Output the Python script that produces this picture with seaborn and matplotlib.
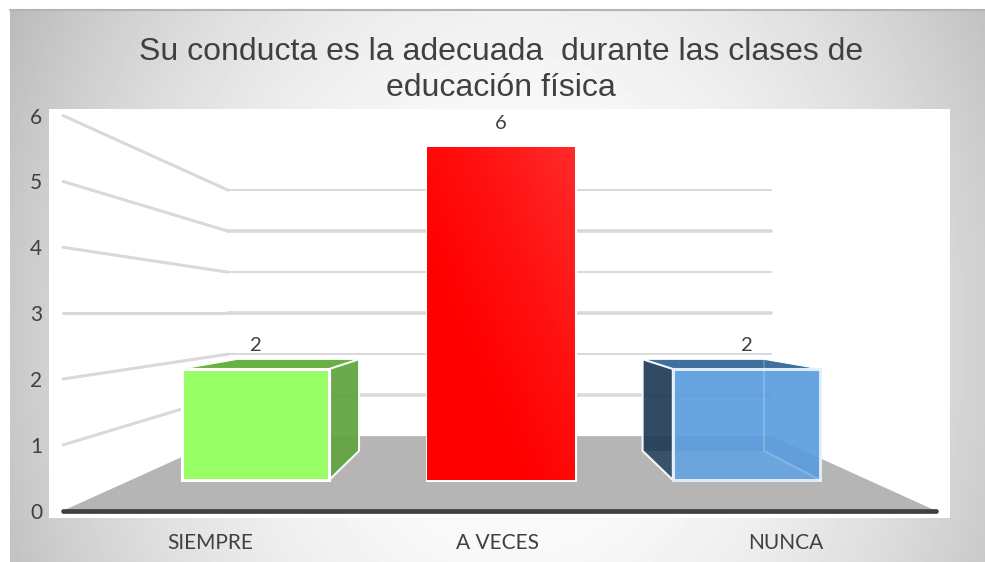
import numpy as np
import pandas as pd
import seaborn as sns
import matplotlib.pyplot as plt
from matplotlib.colors import LinearSegmentedColormap

categorias = ['SIEMPRE', 'A VECES', 'NUNCA']
valores = [2, 6, 2]
y_ticks = [0, 1, 2, 3, 4, 5, 6]
colores = ['#99ff66', '#ff0000', '#5a9ddf']
colores_lado = ['#60a33f', '#c00000', '#223d58']
colores_tope = ['#69b045', '#c00000', '#3f6f9c']
grosor_rejilla = [1.4, 2.6, 1.4, 2.6, 1.4, 2.6]

W, H = 985, 562
GRIS = '#404040'
ROJILLA = '#d9d9d9'
PISO = '#b5b5b5'

sns.set_theme(style='white')
plt.rcParams['font.family'] = ['Lato', 'DejaVu Sans']


def rect(x0, y0, x1, y1):
    # pixel box (top-left origin) to figure fraction
    return [x0 / W, 1 - y1 / H, (x1 - x0) / W, (y1 - y0) / H]


def fuga(x, y, s, x0, y0):
    # pull a point toward the vanishing point
    return x0 + s * (x - x0), y0 + s * (y - y0)


fig = plt.figure(figsize=(W / 100, H / 100), dpi=100, facecolor='white')

# card background
bg = fig.add_axes([0, 0, 1, 1], zorder=0)
bg.axis('off')
xx, yy = np.meshgrid(np.arange(10, W), np.arange(9, H))
d = ((xx - 515) / 495) ** 2 + ((yy - 335) / 335) ** 2 * 0.3
bg.imshow(255 - 52 * d, cmap='gray', vmin=0, vmax=255, extent=(10, W, H, 9), aspect='auto')
bg.plot([10, W], [9.5, 9.5], color='#b4b4b4', lw=1.5)
bg.set_xlim(0, W)
bg.set_ylim(H, 0)

fig.text(501 / W, 1 - 70 / H, 'Su conducta es la adecuada  durante las clases de\neducación física',
         ha='center', va='center', fontsize=23, color=GRIS, family='Liberation Sans', linespacing=1.28)

# wall axes: gridlines, floor and tick labels
wall = fig.add_axes(rect(49, 109, 950, 518), zorder=1, facecolor='white')
wall.set_xlim((49 - 498) / 288 + 1, (950 - 498) / 288 + 1)
wall.set_ylim((510.7 - 518) / 65.85, (510.7 - 109) / 65.85)
xl, xr = -0.51, 2.52
vx, vy, s_fondo = 1.007, 3.0, 0.6226

for v, lw in zip(y_ticks[1:], grosor_rejilla[::-1]):
    bx, by = fuga(xl, v, s_fondo, vx, vy)
    ex, _ = fuga(xr, v, s_fondo, vx, vy)
    wall.plot([xl, bx], [v, by], color=ROJILLA, lw=2.2, zorder=1)
    wall.plot([bx, ex], [by, by], color=ROJILLA, lw=lw, zorder=1)

bl = fuga(xl, 0, s_fondo, vx, vy)
br = fuga(xr, 0, s_fondo, vx, vy)
wall.fill([xl, bl[0], br[0], xr], [0, bl[1], br[1], 0], color=PISO, lw=0, zorder=2)
wall.plot([xl, xr], [0, 0], color=GRIS, lw=3.4, zorder=3, solid_capstyle='round')

wall.set_xticks(range(len(categorias)), categorias)
wall.set_yticks(y_ticks)
wall.tick_params(axis='both', length=0, labelsize=15, labelcolor=GRIS)
wall.tick_params(axis='x', pad=11)
wall.tick_params(axis='y', pad=5)
sns.despine(ax=wall, left=True, bottom=True)

# bar axes: front plane of the bars
ax = fig.add_axes(rect(49, 109, 950, 518), zorder=2)
ax.patch.set_alpha(0)
df = pd.DataFrame({'categoria': categorias, 'valor': valores})
sns.barplot(data=df, x='categoria', y='valor', hue='categoria', palette=colores, order=categorias,
            width=0.6, saturation=1, legend=False, edgecolor='white', linewidth=2.2, zorder=5, ax=ax)
ax.patches[2].set_alpha(0.92)
ax.patches[2].set_edgecolor('#e6f1fb')

bvx, bvy, s_bar = 0.996, 3.0, 0.825
for i, p in enumerate(ax.patches):
    x0, x1, top = p.get_x(), p.get_x() + p.get_width(), p.get_height()
    # face on the side of the vanishing point
    xf = x1 if x1 < bvx else x0
    xb, yb = fuga(xf, top, s_bar, bvx, bvy)
    _, yb0 = fuga(xf, 0, s_bar, bvx, bvy)
    ax.fill([xf, xb, xb, xf], [top, yb, yb0, 0], color=colores_lado[i], ec='white', lw=1.5,
            zorder=3, alpha=0.93)
    lx, ly = fuga(x0, top, s_bar, bvx, bvy)
    rx, _ = fuga(x1, top, s_bar, bvx, bvy)
    ax.fill([x0, lx, rx, x1], [top, ly, ly, top], color=colores_tope[i], ec='white', lw=0.8, zorder=2)
    if i == 2:
        # back edges seen through the translucent box
        ax.plot([rx, rx, x1], [ly, yb0, 0], color='white', alpha=0.2, lw=1.5, zorder=6)
        ax.fill([xb, rx, x1, x0], [yb0, yb0, 0, 0], color='white', alpha=0.07, lw=0, zorder=6)

# soft diagonal shading on the red bar
rojo = ax.patches[1]
cm = LinearSegmentedColormap.from_list('rojo', ['#ff0000', '#ff0000', '#ff1212', '#ff2a2a'])
gx, gy = np.meshgrid(np.linspace(0, 1, 60), np.linspace(1, 0, 120))
img = ax.imshow((gx + gy) / 2, cmap=cm, vmin=0, vmax=1, aspect='auto', zorder=5.5,
                extent=(rojo.get_x(), rojo.get_x() + rojo.get_width(), 0, rojo.get_height()))
img.set_clip_path(rojo)

for c in ax.containers:
    ax.bar_label(c, padding=11, fontsize=14.5, color=GRIS)

ax.set_xlim((49 - 255.5) / 245.5, (950 - 255.5) / 245.5)
ax.set_ylim((480 - 518) / 55.5, (480 - 109) / 55.5)
ax.axis('off')

fig.savefig('out.png', dpi=100)
